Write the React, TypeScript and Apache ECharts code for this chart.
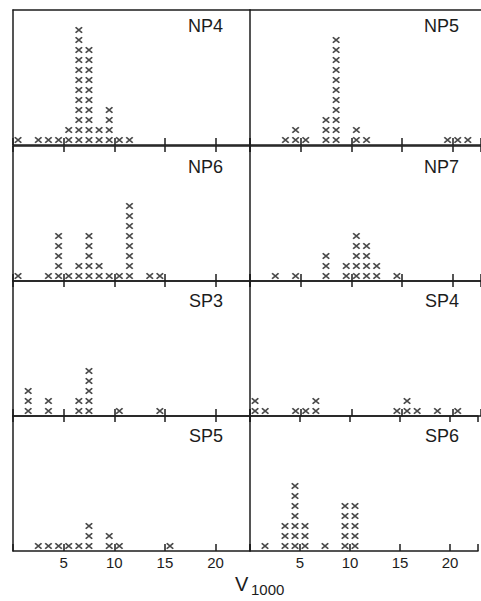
import React, { useEffect, useRef } from "react";
import * as echarts from "echarts";

// ---- data (bin centre on V1000 axis, number of crosses stacked in that bin) ----
const panelNames = ["NP4", "NP5", "NP6", "NP7", "SP3", "SP4", "SP5", "SP6"];

const np4X = [0.5, 2.5, 3.5, 4.5, 5.5, 6.5, 7.5, 8.5, 9.5, 10.5, 11.5];
const np4N = [1, 1, 1, 1, 2, 12, 10, 2, 4, 1, 1];

const np5X = [3.5, 4.5, 5.5, 7.5, 8.5, 10.5, 11.5, 19.5, 20.5, 21.5];
const np5N = [1, 2, 1, 3, 11, 2, 1, 1, 1, 1];

const np6X = [0.5, 3.5, 4.5, 5.5, 6.5, 7.5, 8.5, 9.5, 10.5, 11.5, 13.5, 14.5];
const np6N = [1, 1, 5, 1, 2, 5, 2, 1, 1, 8, 1, 1];

const np7X = [2.5, 4.5, 7.5, 9.5, 10.5, 11.5, 12.5, 14.5];
const np7N = [1, 1, 3, 2, 5, 4, 2, 1];

const sp3X = [1.5, 3.5, 6.5, 7.5, 10.5, 14.5];
const sp3N = [3, 2, 2, 5, 1, 1];

const sp4X = [0.5, 1.5, 4.5, 5.5, 6.5, 14.5, 15.5, 16.5, 18.5, 20.5];
const sp4N = [2, 1, 1, 1, 2, 1, 2, 1, 1, 1];

const sp5X = [2.5, 3.5, 4.5, 5.5, 6.5, 7.5, 9.5, 10.5, 15.5];
const sp5N = [1, 1, 1, 1, 1, 3, 2, 1, 1];

const sp6X = [1.5, 3.5, 4.5, 5.5, 7.5, 9.5, 10.5];
const sp6N = [1, 3, 7, 3, 1, 5, 5];

const xTicks = [5, 10, 15, 20];

const panelX = [np4X, np5X, np6X, np7X, sp3X, sp4X, sp5X, sp6X];
const panelN = [np4N, np5N, np6N, np7N, sp3N, sp4N, sp5N, sp6N];

// ---- layout ----
const W = 481;
const H = 601;
const colLeft = [13, 250];
const colWidth = [237, 231];
const colMax = [23.4, 22.8];
const rowTop = [10, 146, 281, 416];
const rowH = 135;
const yMax = 13.5;
const labelRight = [258, 22];
const labelTop = [17, 158, 292, 427];

const INK = "#1c1c1c";
const FONT = "Liberation Sans, Arial, sans-serif";

function stackPoints(xs: number[], ns: number[]): number[][] {
  const pts: number[][] = [];
  xs.forEach((x, i) => {
    for (let k = 1; k <= ns[i]; k++) pts.push([x, k - 0.5]);
  });
  return pts;
}

export default function App() {
  const ref = useRef<HTMLDivElement>(null);

  useEffect(() => {
    if (!ref.current) return;
    const chart = echarts.init(ref.current, undefined, { renderer: "svg" });

    const grids: any[] = [];
    const xAxes: any[] = [];
    const yAxes: any[] = [];
    const series: any[] = [];
    const titles: any[] = [];

    panelNames.forEach((name, i) => {
      const r = Math.floor(i / 2);
      const c = i % 2;
      grids.push({
        left: colLeft[c],
        top: rowTop[r],
        width: colWidth[c],
        height: rowH,
        containLabel: false,
      });
      // bottom axis
      xAxes.push({
        type: "value",
        gridIndex: i,
        position: "bottom",
        min: 0,
        max: colMax[c],
        interval: 5,
        axisLine: { show: true, lineStyle: { color: INK, width: 1.5 } },
        axisTick: { show: true, inside: true, length: 7, lineStyle: { color: INK, width: 1.5 } },
        axisLabel: {
          show: r === 3,
          margin: 4,
          fontSize: 15,
          color: INK,
          fontFamily: FONT,
          formatter: (v: number) => (xTicks.indexOf(v) >= 0 ? String(v) : ""),
        },
        splitLine: { show: false },
      });
      yAxes.push({
        type: "value",
        gridIndex: i,
        min: 0,
        max: yMax,
        axisLine: { show: true, lineStyle: { color: INK, width: 1.5 } },
        axisTick: { show: false },
        axisLabel: { show: false },
        splitLine: { show: false },
      });
      series.push({
        type: "scatter",
        xAxisIndex: i,
        yAxisIndex: i,
        data: stackPoints(panelX[i], panelN[i]),
        symbol: "path://M0,0L10,10M10,0L0,10",
        symbolSize: [6.5, 5.5],
        itemStyle: { color: "transparent", borderColor: INK, borderWidth: 1.7 },
        silent: true,
      });
      titles.push({
        text: name,
        right: labelRight[c],
        top: labelTop[r],
        padding: 0,
        textStyle: { fontSize: 18, fontWeight: "normal", color: INK, fontFamily: FONT },
      });
    });

    // top axes (row 0: frame line only; other rows: inward ticks)
    panelNames.forEach((_, i) => {
      const r = Math.floor(i / 2);
      const c = i % 2;
      xAxes.push({
        type: "value",
        gridIndex: i,
        position: "top",
        min: 0,
        max: colMax[c],
        interval: 5,
        axisLine: { show: true, lineStyle: { color: INK, width: 1.5 } },
        axisTick: { show: r > 0, inside: true, length: 6, lineStyle: { color: INK, width: 1.5 } },
        axisLabel: { show: false },
        splitLine: { show: false },
      });
    });

    chart.setOption({
      animation: false,
      backgroundColor: "#ffffff",
      title: titles,
      grid: grids,
      xAxis: xAxes,
      yAxis: yAxes,
      series,
      graphic: [
        {
          type: "text",
          left: 235,
          top: 574,
          style: { text: "V", fontSize: 20, fill: INK, fontFamily: FONT },
        },
        {
          type: "text",
          left: 251,
          top: 582,
          style: { text: "1000", fontSize: 15, fill: INK, fontFamily: FONT },
        },
      ],
    });

    return () => chart.dispose();
  }, []);

  return (
    <div
      ref={ref}
      style={{ position: "fixed", left: 0, top: 0, width: W, height: H, background: "#fff" }}
    />
  );
}
